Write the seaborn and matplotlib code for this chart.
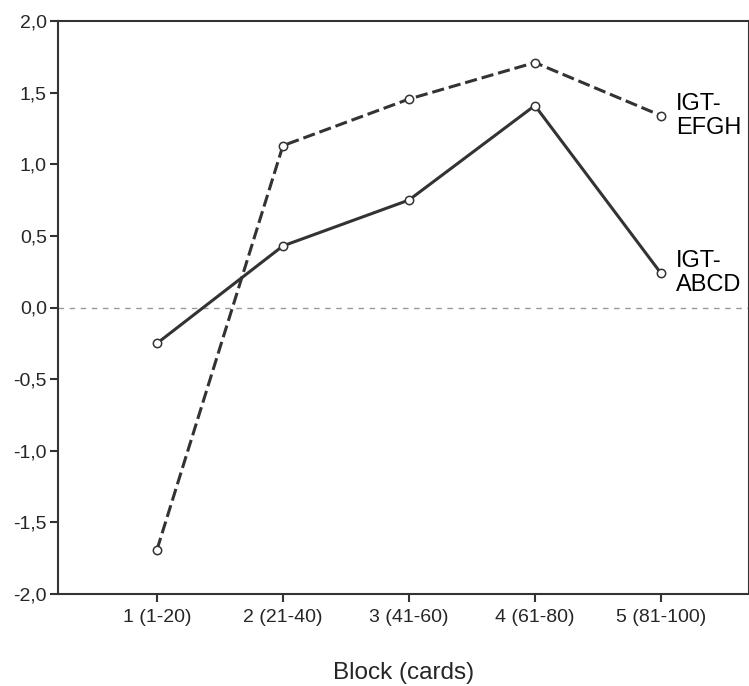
import pandas as pd
import matplotlib.pyplot as plt
import seaborn as sns

# datos
blocks = ["1 (1-20)", "2 (21-40)", "3 (41-60)", "4 (61-80)", "5 (81-100)"]
abcd = [-0.25, 0.43, 0.75, 1.41, 0.24]
efgh = [-1.69, 1.13, 1.455, 1.71, 1.34]
y_ticks = [-2.0, -1.5, -1.0, -0.5, 0.0, 0.5, 1.0, 1.5, 2.0]

df = pd.DataFrame({
    "pos": list(range(len(blocks))) * 2,
    "score": abcd + efgh,
    "deck": ["IGT-\nABCD"] * len(blocks) + ["IGT-\nEFGH"] * len(blocks),
})

sns.set_style("ticks")
plt.rcParams['font.family'] = ['Liberation Sans', 'DejaVu Sans']

fig = plt.figure(figsize=(7.49, 6.86), dpi=100)
ax = fig.add_axes([58 / 749, 92 / 686, 1 - 58 / 749, (594 - 21) / 686])

col = "#333333"
ax.axhline(0, color="#999999", lw=1, ls=(0, (4, 4)), zorder=1)
sns.lineplot(data=df, x="pos", y="score", style="deck",
             dashes={"IGT-\nABCD": "", "IGT-\nEFGH": (4, 1.6)},
             color=col, lw=2.2, marker="o", markersize=6,
             markerfacecolor="white", markeredgecolor=col, markeredgewidth=1.1,
             legend=False, ax=ax, zorder=3)

# etiquetas al final de cada linea
for name, vals in [("IGT-\nEFGH", efgh), ("IGT-\nABCD", abcd)]:
    ax.text(len(blocks) - 1 + 0.12, vals[-1], name, fontsize=17,
            ha="left", va="center", color="black", linespacing=1.12)

ax.set_xlim(-0.786, 4.70)
ax.set_ylim(-2.0, 2.0)
ax.set_xticks(range(len(blocks)))
ax.set_xticklabels(blocks)
ax.set_yticks(y_ticks)
ax.set_yticklabels([f"{v:.1f}".replace(".", ",") for v in y_ticks])
ax.tick_params(axis="both", labelsize=14, color=col, width=1.5, length=6)
ax.tick_params(axis="x", pad=5)
ax.tick_params(axis="y", pad=2)
for s in ax.spines.values():
    s.set_color(col)
    s.set_linewidth(1.5)

ax.set_xlabel("Block (cards)", fontsize=17.5, labelpad=26)
ax.set_ylabel("")

plt.savefig("out.png", dpi=100)
